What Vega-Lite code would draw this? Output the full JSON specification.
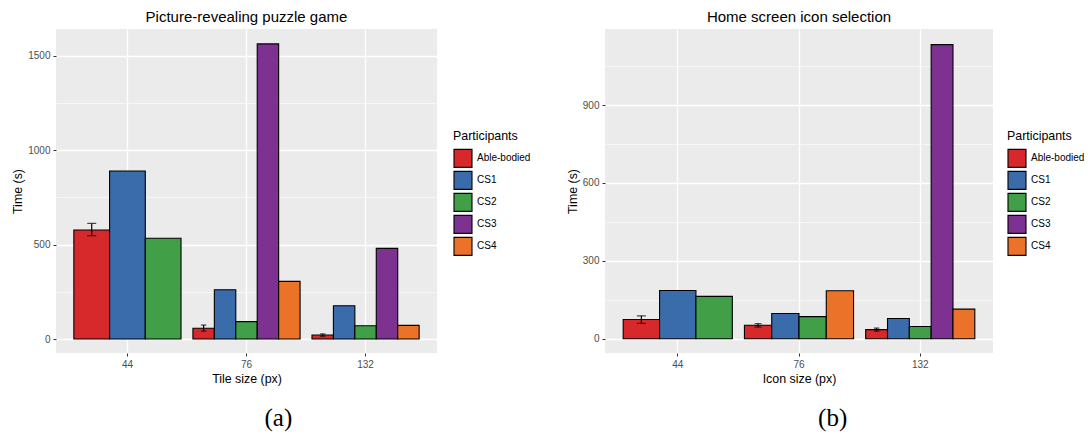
{
  "$schema": "https://vega.github.io/schema/vega-lite/v6.json",
  "background": "white",
  "padding": {"left": 11, "top": 10, "right": 0, "bottom": 0},
  "autosize": {"type": "pad"},
  "datasets": {
    "puzzle": [
      {"size": "44", "participant": "Able-bodied", "time": 577, "lo": 547, "hi": 612},
      {"size": "44", "participant": "CS1", "time": 889},
      {"size": "44", "participant": "CS2", "time": 533},
      {"size": "76", "participant": "Able-bodied", "time": 57, "lo": 42, "hi": 74},
      {"size": "76", "participant": "CS1", "time": 261},
      {"size": "76", "participant": "CS2", "time": 92},
      {"size": "76", "participant": "CS3", "time": 1562},
      {"size": "76", "participant": "CS4", "time": 305},
      {"size": "132", "participant": "Able-bodied", "time": 21, "lo": 15, "hi": 27},
      {"size": "132", "participant": "CS1", "time": 176},
      {"size": "132", "participant": "CS2", "time": 70},
      {"size": "132", "participant": "CS3", "time": 480},
      {"size": "132", "participant": "CS4", "time": 72}
    ],
    "icon": [
      {"size": "44", "participant": "Able-bodied", "time": 74, "lo": 59, "hi": 88},
      {"size": "44", "participant": "CS1", "time": 186},
      {"size": "44", "participant": "CS2", "time": 163},
      {"size": "76", "participant": "Able-bodied", "time": 52, "lo": 45, "hi": 58},
      {"size": "76", "participant": "CS1", "time": 97},
      {"size": "76", "participant": "CS2", "time": 85},
      {"size": "76", "participant": "CS4", "time": 185},
      {"size": "132", "participant": "Able-bodied", "time": 35, "lo": 29, "hi": 41},
      {"size": "132", "participant": "CS1", "time": 78},
      {"size": "132", "participant": "CS2", "time": 47},
      {"size": "132", "participant": "CS3", "time": 1133},
      {"size": "132", "participant": "CS4", "time": 114}
    ]
  },
  "config": {
    "font": "Liberation Sans",
    "view": {"fill": "#EBEBEB", "stroke": null},
    "axis": {
      "domain": false, "grid": true, "gridColor": "white", "gridWidth": 1.3,
      "tickColor": "#333333", "tickSize": 3, "tickWidth": 1,
      "labelColor": "#4D4D4D", "labelFontSize": 10, "labelFont": "Liberation Sans",
      "titleFontSize": 12.4, "titleFontWeight": "normal", "titleColor": "black", "titleFont": "Liberation Sans"
    },
    "legend": {
      "orient": "none", "symbolType": "square", "symbolSize": 324,
      "symbolStrokeColor": "black", "symbolStrokeWidth": 1.1, "symbolOpacity": 1,
      "rowPadding": -3.2, "titleFontSize": 12.4, "titleFontWeight": "normal", "titleColor": "black",
      "titleFont": "Liberation Sans", "labelFont": "Liberation Sans",
      "labelFontSize": 10, "labelColor": "black", "titlePadding": 6, "labelOffset": 4, "padding": 0
    },
    "title": {"font": "Liberation Sans", "fontWeight": "normal", "color": "black"}
  },
  "spacing": 35,
  "resolve": {"scale": {"color": "independent", "y": "independent", "x": "independent"}, "legend": {"color": "independent"}},
  "hconcat": [
    {
      "title": {"text": "(a)", "orient": "bottom", "font": "Liberation Serif", "fontSize": 25, "anchor": "middle", "offset": 22, "dx": 7},
      "vconcat": [
        {
          "title": {"text": "Picture-revealing puzzle game", "fontSize": 15, "anchor": "middle", "frame": "group", "offset": 4},
          "width": 381, "height": 324,
          "data": {"name": "puzzle"},
          "resolve": {"scale": {"xOffset": "independent"}},
          "layer": [
            {
              "transform": [{"filter": "datum.size === '44'"}],
              "layer": [
                {
                  "mark": {"type": "bar", "stroke": "black", "strokeWidth": 1.1},
                  "encoding": {
                    "x": {"field": "size", "type": "ordinal", "title": "Tile size (px)",
                      "scale": {"domain": ["44", "76", "132"], "paddingInner": 0.1, "paddingOuter": 0.15},
                      "axis": {"labelAngle": 0, "bandPosition": 0.5, "labelPadding": 3, "titlePadding": 3}},
                    "xOffset": {"field": "participant", "type": "nominal"},
                    "y": {"field": "time", "type": "quantitative", "title": "Time (s)",
                      "scale": {"domain": [-74, 1641], "nice": false, "zero": false},
                      "axis": {"values": [0, 250, 500, 750, 1000, 1250, 1500], "format": "d",
                        "labelExpr": "datum.value % 500 === 0 ? datum.label : ''",
                        "tickOpacity": {"condition": {"test": "datum.value % 500 !== 0", "value": 0}, "value": 1},
                        "gridWidth": {"condition": {"test": "datum.value % 500 === 0", "value": 1.3}, "value": 0.6},
                        "labelPadding": 3, "titlePadding": 3}},
                    "color": {"field": "participant", "type": "nominal", "title": "Participants",
                      "scale": {"domain": ["Able-bodied", "CS1", "CS2", "CS3", "CS4"], "range": ["#D7292B", "#3A6BAA", "#41A047", "#7D3190", "#EA7229"]},
                      "legend": {"legendX": 397, "legendY": 101}}
                  }
                },
                {
                  "mark": {"type": "rule", "color": "black", "strokeWidth": 1.2},
                  "encoding": {
                    "x": {"field": "size", "type": "ordinal", "title": "Tile size (px)"},
                    "xOffset": {"field": "participant", "type": "nominal"},
                    "y": {"field": "lo", "type": "quantitative", "title": "Time (s)"},
                    "y2": {"field": "hi"}
                  }
                },
                {
                  "mark": {"type": "tick", "color": "black", "thickness": 1.2, "size": 9},
                  "encoding": {
                    "x": {"field": "size", "type": "ordinal", "title": "Tile size (px)"},
                    "xOffset": {"field": "participant", "type": "nominal"},
                    "y": {"field": "lo", "type": "quantitative", "title": "Time (s)"}
                  }
                },
                {
                  "mark": {"type": "tick", "color": "black", "thickness": 1.2, "size": 9},
                  "encoding": {
                    "x": {"field": "size", "type": "ordinal", "title": "Tile size (px)"},
                    "xOffset": {"field": "participant", "type": "nominal"},
                    "y": {"field": "hi", "type": "quantitative", "title": "Time (s)"}
                  }
                }
              ]
            },
            {
              "transform": [{"filter": "datum.size !== '44'"}],
              "layer": [
                {
                  "mark": {"type": "bar", "stroke": "black", "strokeWidth": 1.1},
                  "encoding": {
                    "x": {"field": "size", "type": "ordinal", "title": "Tile size (px)"},
                    "xOffset": {"field": "participant", "type": "nominal"},
                    "y": {"field": "time", "type": "quantitative", "title": "Time (s)"},
                    "color": {"field": "participant", "type": "nominal", "title": "Participants"}
                  }
                },
                {
                  "mark": {"type": "rule", "color": "black", "strokeWidth": 1.2},
                  "encoding": {
                    "x": {"field": "size", "type": "ordinal", "title": "Tile size (px)"},
                    "xOffset": {"field": "participant", "type": "nominal"},
                    "y": {"field": "lo", "type": "quantitative", "title": "Time (s)"},
                    "y2": {"field": "hi"}
                  }
                },
                {
                  "mark": {"type": "tick", "color": "black", "thickness": 1.2, "size": 5.5},
                  "encoding": {
                    "x": {"field": "size", "type": "ordinal", "title": "Tile size (px)"},
                    "xOffset": {"field": "participant", "type": "nominal"},
                    "y": {"field": "lo", "type": "quantitative", "title": "Time (s)"}
                  }
                },
                {
                  "mark": {"type": "tick", "color": "black", "thickness": 1.2, "size": 5.5},
                  "encoding": {
                    "x": {"field": "size", "type": "ordinal", "title": "Tile size (px)"},
                    "xOffset": {"field": "participant", "type": "nominal"},
                    "y": {"field": "hi", "type": "quantitative", "title": "Time (s)"}
                  }
                }
              ]
            }
          ]
        }
      ]
    },
    {
      "title": {"text": "(b)", "orient": "bottom", "font": "Liberation Serif", "fontSize": 25, "anchor": "middle", "offset": 22, "dx": 7},
      "vconcat": [
        {
          "title": {"text": "Home screen icon selection", "fontSize": 15, "anchor": "middle", "frame": "group", "offset": 4},
          "width": 388, "height": 324,
          "data": {"name": "icon"},
          "resolve": {"scale": {"xOffset": "independent"}},
          "layer": [
            {
              "transform": [{"filter": "datum.size === '44'"}],
              "layer": [
                {
                  "mark": {"type": "bar", "stroke": "black", "strokeWidth": 1.1},
                  "encoding": {
                    "x": {"field": "size", "type": "ordinal", "title": "Icon size (px)",
                      "scale": {"domain": ["44", "76", "132"], "paddingInner": 0.1, "paddingOuter": 0.15},
                      "axis": {"labelAngle": 0, "bandPosition": 0.5, "labelPadding": 3, "titlePadding": 3}},
                    "xOffset": {"field": "participant", "type": "nominal"},
                    "y": {"field": "time", "type": "quantitative", "title": "Time (s)",
                      "scale": {"domain": [-55, 1193], "nice": false, "zero": false},
                      "axis": {"values": [0, 150, 300, 450, 600, 750, 900, 1050], "format": "d",
                        "labelExpr": "datum.value % 300 === 0 ? datum.label : ''",
                        "tickOpacity": {"condition": {"test": "datum.value % 300 !== 0", "value": 0}, "value": 1},
                        "gridWidth": {"condition": {"test": "datum.value % 300 === 0", "value": 1.3}, "value": 0.6},
                        "labelPadding": 3, "titlePadding": 3}},
                    "color": {"field": "participant", "type": "nominal", "title": "Participants",
                      "scale": {"domain": ["Able-bodied", "CS1", "CS2", "CS3", "CS4"], "range": ["#D7292B", "#3A6BAA", "#41A047", "#7D3190", "#EA7229"]},
                      "legend": {"legendX": 402, "legendY": 101}}
                  }
                },
                {
                  "mark": {"type": "rule", "color": "black", "strokeWidth": 1.2},
                  "encoding": {
                    "x": {"field": "size", "type": "ordinal", "title": "Icon size (px)"},
                    "xOffset": {"field": "participant", "type": "nominal"},
                    "y": {"field": "lo", "type": "quantitative", "title": "Time (s)"},
                    "y2": {"field": "hi"}
                  }
                },
                {
                  "mark": {"type": "tick", "color": "black", "thickness": 1.2, "size": 9},
                  "encoding": {
                    "x": {"field": "size", "type": "ordinal", "title": "Icon size (px)"},
                    "xOffset": {"field": "participant", "type": "nominal"},
                    "y": {"field": "lo", "type": "quantitative", "title": "Time (s)"}
                  }
                },
                {
                  "mark": {"type": "tick", "color": "black", "thickness": 1.2, "size": 9},
                  "encoding": {
                    "x": {"field": "size", "type": "ordinal", "title": "Icon size (px)"},
                    "xOffset": {"field": "participant", "type": "nominal"},
                    "y": {"field": "hi", "type": "quantitative", "title": "Time (s)"}
                  }
                }
              ]
            },
            {
              "transform": [{"filter": "datum.size === '76'"}],
              "layer": [
                {
                  "mark": {"type": "bar", "stroke": "black", "strokeWidth": 1.1},
                  "encoding": {
                    "x": {"field": "size", "type": "ordinal", "title": "Icon size (px)"},
                    "xOffset": {"field": "participant", "type": "nominal"},
                    "y": {"field": "time", "type": "quantitative", "title": "Time (s)"},
                    "color": {"field": "participant", "type": "nominal", "title": "Participants"}
                  }
                },
                {
                  "mark": {"type": "rule", "color": "black", "strokeWidth": 1.2},
                  "encoding": {
                    "x": {"field": "size", "type": "ordinal", "title": "Icon size (px)"},
                    "xOffset": {"field": "participant", "type": "nominal"},
                    "y": {"field": "lo", "type": "quantitative", "title": "Time (s)"},
                    "y2": {"field": "hi"}
                  }
                },
                {
                  "mark": {"type": "tick", "color": "black", "thickness": 1.2, "size": 7},
                  "encoding": {
                    "x": {"field": "size", "type": "ordinal", "title": "Icon size (px)"},
                    "xOffset": {"field": "participant", "type": "nominal"},
                    "y": {"field": "lo", "type": "quantitative", "title": "Time (s)"}
                  }
                },
                {
                  "mark": {"type": "tick", "color": "black", "thickness": 1.2, "size": 7},
                  "encoding": {
                    "x": {"field": "size", "type": "ordinal", "title": "Icon size (px)"},
                    "xOffset": {"field": "participant", "type": "nominal"},
                    "y": {"field": "hi", "type": "quantitative", "title": "Time (s)"}
                  }
                }
              ]
            },
            {
              "transform": [{"filter": "datum.size === '132'"}],
              "layer": [
                {
                  "mark": {"type": "bar", "stroke": "black", "strokeWidth": 1.1},
                  "encoding": {
                    "x": {"field": "size", "type": "ordinal", "title": "Icon size (px)"},
                    "xOffset": {"field": "participant", "type": "nominal"},
                    "y": {"field": "time", "type": "quantitative", "title": "Time (s)"},
                    "color": {"field": "participant", "type": "nominal", "title": "Participants"}
                  }
                },
                {
                  "mark": {"type": "rule", "color": "black", "strokeWidth": 1.2},
                  "encoding": {
                    "x": {"field": "size", "type": "ordinal", "title": "Icon size (px)"},
                    "xOffset": {"field": "participant", "type": "nominal"},
                    "y": {"field": "lo", "type": "quantitative", "title": "Time (s)"},
                    "y2": {"field": "hi"}
                  }
                },
                {
                  "mark": {"type": "tick", "color": "black", "thickness": 1.2, "size": 5.5},
                  "encoding": {
                    "x": {"field": "size", "type": "ordinal", "title": "Icon size (px)"},
                    "xOffset": {"field": "participant", "type": "nominal"},
                    "y": {"field": "lo", "type": "quantitative", "title": "Time (s)"}
                  }
                },
                {
                  "mark": {"type": "tick", "color": "black", "thickness": 1.2, "size": 5.5},
                  "encoding": {
                    "x": {"field": "size", "type": "ordinal", "title": "Icon size (px)"},
                    "xOffset": {"field": "participant", "type": "nominal"},
                    "y": {"field": "hi", "type": "quantitative", "title": "Time (s)"}
                  }
                }
              ]
            }
          ]
        }
      ]
    }
  ]
}
